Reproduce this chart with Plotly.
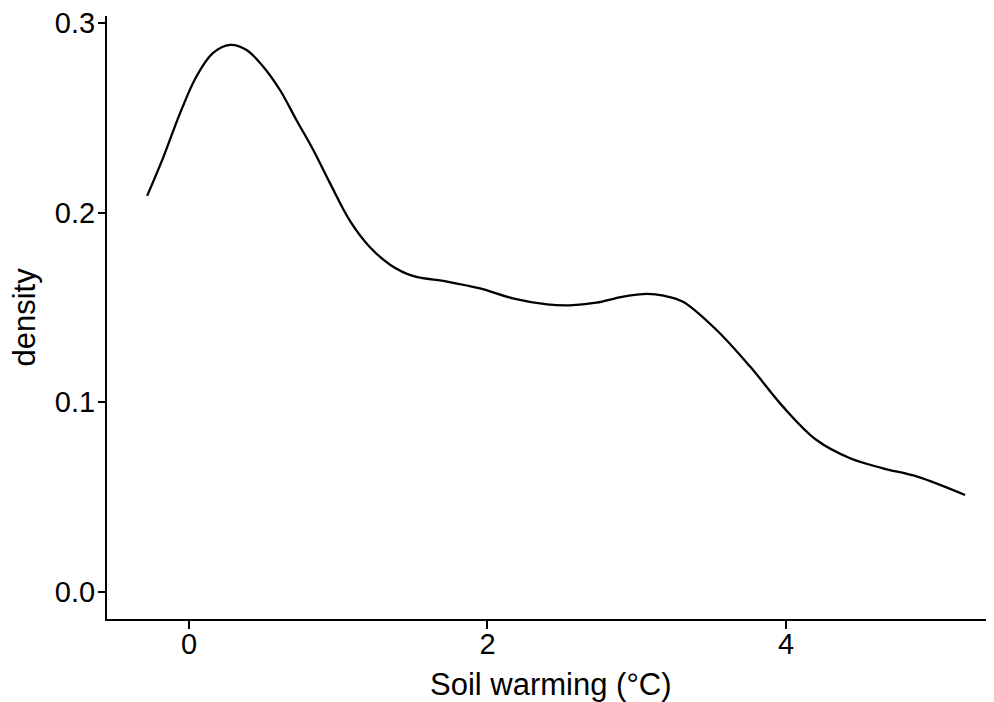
import plotly.graph_objects as go

# Data
soil_warming = [-0.28, -0.17, -0.06, 0.05, 0.16, 0.275, 0.386, 0.498, 0.61, 0.72,
                0.833, 0.945, 1.08, 1.21, 1.35, 1.50, 1.73, 1.95, 2.17, 2.40,
                2.55, 2.73, 2.91, 3.07, 3.18, 3.31, 3.535, 3.76, 3.98, 4.205,
                4.43, 4.65, 4.88, 5.2]
density = [0.2088, 0.2295, 0.2523, 0.2717, 0.284, 0.2884, 0.2857, 0.2769, 0.2646, 0.2488,
           0.233, 0.2155, 0.1955, 0.182, 0.1724, 0.1666, 0.1636, 0.160, 0.1548, 0.1516,
           0.1511, 0.1525, 0.1557, 0.1571, 0.1562, 0.153, 0.1381, 0.1188, 0.0977, 0.0801,
           0.0705, 0.0652, 0.0608, 0.0511]

x_ticks = [0, 2, 4]
y_ticks = [0.0, 0.1, 0.2, 0.3]
y_tick_labels = ["0.0", "0.1", "0.2", "0.3"]

fig = go.Figure()
fig.add_trace(go.Scatter(
    x=soil_warming, y=density, mode="lines",
    line=dict(color="black", width=2.3, shape="spline", smoothing=1.0),
    showlegend=False, hoverinfo="skip",
))

font_family = "Liberation Sans, Arial, Helvetica, sans-serif"

# page body has an 8px margin, so the figure is sized/offset to compensate
fig.update_layout(
    width=986, height=694,
    margin=dict(l=99, r=0, t=8, b=83),
    paper_bgcolor="white", plot_bgcolor="white",
    font=dict(family=font_family, color="black", size=29),
    xaxis=dict(
        range=[-0.549, 5.394],
        tickvals=x_ticks, ticktext=[str(v) for v in x_ticks],
        showline=True, linecolor="black", linewidth=2,
        ticks="outside", ticklen=8, tickwidth=2, tickcolor="black",
        showgrid=False, zeroline=False,
        tickfont=dict(size=29, color="black"),
        ticklabelstandoff=-10, ticklabeloverflow="allow",
    ),
    yaxis=dict(
        range=[-0.01423, 0.3036],
        tickvals=y_ticks, ticktext=y_tick_labels,
        showline=True, linecolor="black", linewidth=2,
        ticks="outside", ticklen=7, tickwidth=2, tickcolor="black",
        showgrid=False, zeroline=False,
        tickfont=dict(size=29, color="black"),
        ticklabelstandoff=-3, ticklabeloverflow="allow",
    ),
    annotations=[
        dict(text="Soil warming (°C)", xref="paper", yref="paper", x=0.5, y=0,
             xanchor="center", yanchor="middle", yshift=-65, showarrow=False,
             font=dict(size=31, color="black")),
        dict(text="density", xref="paper", yref="paper", x=0, y=0.5,
             xanchor="center", yanchor="middle", xshift=-83, textangle=-90,
             showarrow=False, font=dict(size=31, color="black")),
    ],
)

fig.write_html("out.html")
